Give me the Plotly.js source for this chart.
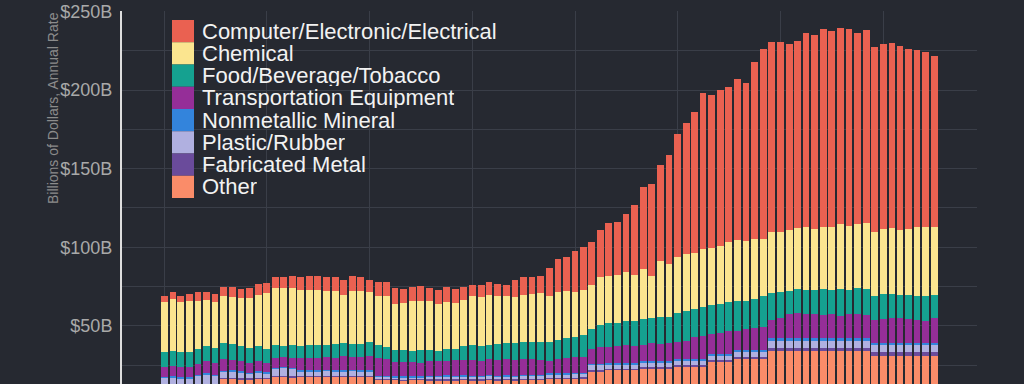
<!DOCTYPE html>
<html>
<head>
<meta charset="utf-8">
<script src="https://cdn.plot.ly/plotly-3.0.1.min.js"></script>
<style>
  html, body { margin:0; padding:0; background:#262931; }
  #chart { width:1024px; height:384px; }
</style>
</head>
<body>
<div id="chart"></div>
<script>
// Monthly observations, Jan 2018 .. Jul 2025
const months = [
  '2018-01','2018-02','2018-03','2018-04','2018-05','2018-06','2018-07','2018-08','2018-09','2018-10','2018-11','2018-12',
  '2019-01','2019-02','2019-03','2019-04','2019-05','2019-06','2019-07','2019-08','2019-09','2019-10','2019-11','2019-12',
  '2020-01','2020-02','2020-03','2020-04','2020-05','2020-06','2020-07','2020-08','2020-09','2020-10','2020-11','2020-12',
  '2021-01','2021-02','2021-03','2021-04','2021-05','2021-06','2021-07','2021-08','2021-09','2021-10','2021-11','2021-12',
  '2022-01','2022-02','2022-03','2022-04','2022-05','2022-06','2022-07','2022-08','2022-09','2022-10','2022-11','2022-12',
  '2023-01','2023-02','2023-03','2023-04','2023-05','2023-06','2023-07','2023-08','2023-09','2023-10','2023-11','2023-12',
  '2024-01','2024-02','2024-03','2024-04','2024-05','2024-06','2024-07','2024-08','2024-09','2024-10','2024-11','2024-12',
  '2025-01','2025-02','2025-03','2025-04','2025-05','2025-06','2025-07'
];

// Billions of dollars, annual rate
const computer = [3.8,4.2,4.0,4.5,5.5,5.0,5.1,5.7,5.9,6.0,
  6.4,6.8,6.6,6.8,7.2,8.0,7.9,8.7,8.7,8.9,
  8.9,9.2,9.1,8.9,7.5,9.1,9.3,9.6,8.7,9.3,
  9.3,8.5,9.1,9.9,8.9,8.3,7.4,7.6,7.9,7.6,
  7.2,10.8,11.1,10.8,11.0,17.6,21.2,21.8,26.3,27.5,
  27.5,29.7,33.6,33.4,37.0,44.4,52.2,58.6,60.8,69.6,
  78.3,83.2,89.5,99.1,97.1,99.1,98.8,102.1,101.0,112.7,
  120.4,120.5,120.8,118.7,118.6,123.8,123.3,125.9,124.9,124.9,
  125.3,121.4,122.4,117.8,118.3,117.4,117.0,115.0,112.6,111.3,
  108.7];
const chemical = [31.8,33.3,32.2,32.0,30.9,29.1,29.5,30.1,30.1,30.3,
  31.6,32.6,35.6,36.3,36.5,36.1,35.6,35.0,35.0,34.4,
  34.0,30.9,34.0,33.6,32.2,31.2,32.0,29.6,29.9,31.2,
  31.3,30.9,29.7,29.7,29.2,29.2,31.2,31.2,31.8,30.5,
  30.1,29.3,29.9,30.4,31.5,29.5,30.5,30.1,28.6,28.4,
  28.2,30.6,30.4,30.6,30.8,29.4,32.1,27.0,35.9,33.7,
  35.7,36.6,35.9,36.7,36.5,37.1,38.1,39.1,37.7,38.1,
  36.7,39.0,38.2,38.3,39.3,39.7,38.7,39.5,39.9,41.4,
  40.8,41.0,42.2,40.3,41.2,42.1,41.6,41.5,43.7,43.8,
  43.5];
const food = [9.1,9.3,9.5,9.5,9.3,9.5,9.5,9.9,10.2,9.5,
  9.9,9.3,8.5,8.2,7.4,8.2,7.6,8.0,8.0,8.0,
  8.6,8.0,8.0,8.4,8.7,8.2,7.8,7.4,7.8,7.5,
  8.1,6.8,6.7,7.4,7.0,8.9,9.5,9.1,9.2,10.2,
  10.1,10.6,11.1,11.1,11.1,11.8,12.1,12.7,13.1,14.0,
  12.5,14.4,14.8,14.6,15.3,15.9,16.2,16.1,17.0,16.6,
  18.8,19.1,18.1,18.6,18.5,18.6,18.2,19.0,17.9,18.8,
  19.8,17.2,16.2,14.7,15.3,15.8,15.5,16.5,15.6,16.9,
  15.4,16.3,16.7,15.6,15.7,15.0,14.5,15.7,15.5,15.5,
  14.7];
const transport = [6.4,6.6,6.4,6.6,6.8,8.0,7.2,7.5,6.6,6.8,
  5.9,6.8,6.1,6.0,5.9,6.4,7.9,7.9,8.1,7.9,
  8.1,9.0,8.3,8.1,9.2,11.1,10.7,9.2,9.0,8.8,
  8.5,9.5,9.2,9.4,9.9,9.7,9.8,9.5,10.1,9.8,
  10.2,9.8,10.1,10.0,9.8,8.0,9.1,9.7,9.9,10.2,
  9.4,10.3,10.2,10.8,11.4,10.8,10.1,11.0,10.6,11.0,
  10.6,11.2,13.7,14.6,12.7,13.4,14.8,12.2,13.5,13.8,
  14.4,11.8,13.1,15.7,15.9,15.3,15.5,15.0,15.3,14.4,
  15.3,15.6,14.6,14.4,15.2,16.0,15.7,14.9,14.4,14.2,
  15.4];
const nonmetallic = [1.0,1.0,1.0,1.0,1.0,1.0,1.0,0.9,0.9,0.9,
  0.9,0.9,0.9,0.9,1.0,0.9,0.9,0.9,0.9,1.0,
  0.9,0.9,1.0,0.9,0.9,0.9,0.9,0.9,0.8,0.9,
  0.9,0.8,0.8,0.8,0.8,0.8,0.8,0.8,0.8,0.8,
  0.8,0.8,0.8,0.8,0.8,0.8,0.9,0.8,0.9,0.9,
  1.2,1.2,1.5,1.5,1.5,1.5,1.3,1.3,1.3,1.3,
  1.4,1.4,1.4,1.4,1.4,1.4,1.4,1.3,1.3,1.3,
  1.3,1.5,1.5,1.5,1.5,1.5,1.6,1.5,1.5,1.5,
  1.5,1.5,1.5,1.4,1.4,1.4,1.4,1.4,1.4,1.4,
  1.5];
const plastic = [3.6,4.0,3.4,3.6,4.9,5.8,5.0,3.5,3.7,3.3,
  2.7,3.3,2.7,4.4,4.8,4.4,2.7,2.7,2.7,2.8,
  2.7,2.7,2.8,2.8,2.7,1.3,1.3,1.2,1.2,1.2,
  1.2,1.5,1.5,1.6,1.5,1.5,1.5,1.6,1.5,1.5,
  1.5,1.5,1.6,1.5,1.5,2.0,2.0,2.0,2.0,2.0,
  2.8,2.8,2.2,2.2,2.2,2.2,2.5,2.5,2.5,2.5,
  2.2,2.2,2.2,2.2,2.4,2.4,2.4,3.3,3.3,3.3,
  3.3,4.9,4.9,4.9,4.9,4.9,4.9,4.9,4.9,4.9,
  4.9,4.9,4.9,4.3,4.3,4.3,4.3,4.3,4.3,4.3,
  4.3];
const fabricated = [1.2,1.2,1.2,1.2,1.2,1.2,1.2,1.0,1.0,1.0,
  0.9,0.9,0.9,1.0,1.0,1.0,0.8,0.8,0.7,0.8,
  0.7,0.7,0.7,0.7,0.7,0.7,0.6,0.6,0.6,0.6,
  0.6,0.9,0.9,0.9,0.9,0.9,0.9,0.9,0.9,0.9,
  0.9,0.9,0.9,0.9,0.9,0.9,0.9,0.9,0.9,0.9,
  1.4,1.4,1.2,1.2,1.2,1.2,1.4,1.4,1.4,1.4,
  1.3,1.3,1.3,1.3,1.2,1.2,1.2,1.3,1.3,1.3,
  1.3,1.5,1.5,1.5,1.5,1.5,1.5,1.5,1.5,1.5,
  1.5,1.5,1.5,2.5,2.5,2.5,2.5,2.5,2.5,2.5,
  2.5];
const other = [11.8,11.8,11.6,11.6,11.8,11.8,11.7,16.0,16.0,15.8,
  15.7,15.9,15.9,17.2,17.2,17.0,17.4,17.4,17.3,17.4,
  17.3,17.5,17.5,17.4,17.3,15.5,15.4,15.3,15.2,15.3,
  15.3,15.1,15.0,15.2,15.1,15.3,15.2,15.0,15.4,15.2,
  15.3,15.2,15.4,15.5,15.4,16.1,16.1,16.1,16.2,16.3,
  20.6,20.6,21.6,21.6,21.6,21.6,22.6,22.6,22.6,22.6,
  24.0,24.0,24.0,24.0,27.0,27.0,27.0,28.7,28.7,28.7,
  28.7,34.1,34.1,34.1,34.1,34.1,34.1,34.1,34.1,34.1,
  34.1,34.1,34.1,31.0,31.0,31.0,31.0,31.0,31.0,31.0,
  31.0];

// Series names (legend order, top to bottom) and colours
const seriesNames = ['Computer/Electronic/Electrical','Chemical','Food/Beverage/Tobacco',
  'Transportation Equipment','Nonmetallic Mineral','Plastic/Rubber','Fabricated Metal','Other'];
const seriesColors = ['#ea6151','#fbe58f','#15a190','#952e98','#3384dc','#b0b0e0','#6a4b9b','#fa8c69'];
const seriesValues = [computer, chemical, food, transport, nonmetallic, plastic, fabricated, other];

const yTickVals = [50,100,150,200,250];
const yTickText = ['$50B','$100B','$150B','$200B','$250B'];
const yMinorVals = [25,75,125,175,225];
const yTitle = 'Billions of Dollars, Annual Rate';

// Stack from the bottom: Other first, Computer last
const traces = [];
for (let k = seriesNames.length - 1; k >= 0; k--) {
  traces.push({
    type:'bar', name:seriesNames[k], x:months, y:seriesValues[k],
    marker:{color:seriesColors[k], line:{width:0}},
    hoverinfo:'x+y+name'
  });
}

// Plot-area pixel frame (for placing the hand-drawn legend)
const L = 122, R = 977, T = 11, B = 384;
const pxX = x => (x - L) / (R - L);
const pxY = y => (B - y) / (B - T);

const shapes = [];
const annotations = [];
const boxTop = 20, boxH = 22.25;
seriesNames.forEach((nm, k) => {
  shapes.push({type:'rect', xref:'paper', yref:'paper',
    x0:pxX(172), x1:pxX(194), y0:pxY(boxTop + boxH*(k+1)), y1:pxY(boxTop + boxH*k),
    fillcolor:seriesColors[k], line:{width:0}, layer:'above'});
  annotations.push({xref:'paper', yref:'paper', x:pxX(201), y:pxY(boxTop + boxH*k + boxH/2),
    xanchor:'left', yanchor:'middle', showarrow:false, text:nm,
    height:21, valign:'middle', borderpad:0,
    font:{size:22, color:'#f2f2f2', family:'Liberation Sans, Arial, sans-serif'}});
});
annotations.push({xref:'paper', yref:'paper', x:pxX(53), y:pxY(108), textangle:-90,
  xanchor:'center', yanchor:'middle', showarrow:false, text:yTitle,
  font:{size:14, color:'#8c8c8c', family:'Liberation Sans, Arial, sans-serif'}});

const gridCol = '#3a3e48';
const layout = {
  width:1024, height:384,
  paper_bgcolor:'#262931', plot_bgcolor:'#262931',
  margin:{l:L, r:1024-R, t:T, b:0, pad:0},
  barmode:'stack', bargap:0.14,
  showlegend:false,
  font:{family:'Liberation Sans, Arial, sans-serif', color:'#a9a9a9'},
  xaxis:{type:'date', range:['2017-08-04','2025-11-30'], dtick:'M12', tick0:'2018-01-01',
    showgrid:true, gridcolor:gridCol, gridwidth:1, showticklabels:false, ticks:'',
    zeroline:false, showline:false},
  yaxis:{range:[13.0,250.3], tickvals:yTickVals, ticktext:yTickText,
    tickfont:{size:18, color:'#a9a9a9'}, ticks:'', ticklabelstandoff:4,
    showgrid:true, gridcolor:gridCol, gridwidth:1,
    minor:{tickvals:yMinorVals, showgrid:true, gridcolor:gridCol, gridwidth:1, ticks:''},
    showline:true, linecolor:'#dedede', linewidth:2, zeroline:false},
  shapes:shapes, annotations:annotations
};

Plotly.newPlot('chart', traces, layout, {displayModeBar:false, staticPlot:true});
</script>
</body>
</html>
